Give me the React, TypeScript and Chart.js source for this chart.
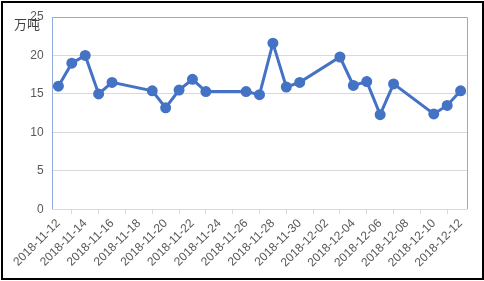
import React, { useEffect, useRef } from "react";
import { Chart, registerables } from "chart.js";

Chart.register(...registerables);

const dates: string[] = [
  "2018-11-12", "2018-11-13", "2018-11-14", "2018-11-15", "2018-11-16", "2018-11-17",
  "2018-11-18", "2018-11-19", "2018-11-20", "2018-11-21", "2018-11-22", "2018-11-23",
  "2018-11-24", "2018-11-25", "2018-11-26", "2018-11-27", "2018-11-28", "2018-11-29",
  "2018-11-30", "2018-12-01", "2018-12-02", "2018-12-03", "2018-12-04", "2018-12-05",
  "2018-12-06", "2018-12-07", "2018-12-08", "2018-12-09", "2018-12-10", "2018-12-11",
  "2018-12-12",
];

const values: (number | null)[] = [
  16.0, 19.0, 20.0, 15.0, 16.5, null,
  null, 15.4, 13.2, 15.5, 16.9, 15.3,
  null, null, 15.3, 14.9, 21.6, 15.9,
  16.5, null, null, 19.8, 16.1, 16.6,
  12.3, 16.3, null, null, 12.4, 13.5,
  15.4,
];

const unitLabel = "万吨";
const yMin = 0;
const yMax = 25;
const yStep = 5;

const framePlugin = {
  id: "frame",
  beforeDatasetsDraw(chart: any) {
    const { ctx, chartArea } = chart;
    const { left, right, top, bottom } = chartArea;
    ctx.save();
    ctx.lineWidth = 1;
    ctx.strokeStyle = "#8faadc";
    ctx.beginPath();
    ctx.moveTo(Math.round(left) + 0.5, Math.round(bottom));
    ctx.lineTo(Math.round(left) + 0.5, Math.round(top) + 0.5);
    ctx.lineTo(Math.round(right) + 0.5, Math.round(top) + 0.5);
    ctx.lineTo(Math.round(right) + 0.5, Math.round(bottom));
    ctx.stroke();
    ctx.strokeStyle = "#d9d9d9";
    ctx.beginPath();
    ctx.moveTo(Math.round(left) + 1, Math.round(bottom) + 0.5);
    ctx.lineTo(Math.round(right), Math.round(bottom) + 0.5);
    ctx.stroke();
    ctx.restore();
  },
  afterDraw(chart: any) {
    const { ctx } = chart;
    ctx.save();
    ctx.fillStyle = "#404040";
    ctx.font = '13px "Noto Sans CJK SC"';
    ctx.textBaseline = "middle";
    ctx.textAlign = "left";
    ctx.fillText(unitLabel, 14, 24);
    ctx.strokeStyle = "#000";
    ctx.lineWidth = 2;
    ctx.strokeRect(2, 2, 481, 277);
    ctx.restore();
  },
};

export default function App() {
  const ref = useRef<HTMLCanvasElement>(null);
  useEffect(() => {
    if (!ref.current) return;
    const chart = new Chart(ref.current, {
      type: "line",
      data: {
        labels: dates,
        datasets: [
          {
            data: values,
            borderColor: "#4472c4",
            backgroundColor: "#4472c4",
            borderWidth: 3,
            pointRadius: 4,
            pointHoverRadius: 4,
            pointBackgroundColor: "#4472c4",
            pointBorderColor: "#4472c4",
            spanGaps: true,
            tension: 0,
          },
        ],
      },
      options: {
        animation: false,
        responsive: false,
        maintainAspectRatio: false,
        layout: { padding: { top: 17, right: 16.7, left: 0, bottom: 0 } },
        plugins: { legend: { display: false }, tooltip: { enabled: false } },
        scales: {
          x: {
            type: "category",
            offset: true,
            afterFit: (s: any) => { s.height = 71.7; },
            grid: {
              offset: true,
              drawOnChartArea: false,
              drawTicks: true,
              tickLength: 5,
              color: "#d9d9d9",
            },
            border: { display: false },
            ticks: {
              autoSkip: false,
              minRotation: 45,
              maxRotation: 45,
              padding: 2,
              color: "#595959",
              font: { family: '"Liberation Sans", Arial, sans-serif', size: 12 },
              callback: (_v: any, i: number) => (i % 2 === 0 ? dates[i] : null),
            },
          },
          y: {
            min: yMin,
            max: yMax,
            afterFit: (s: any) => { s.width = 51.7; },
            grid: { color: "#d9d9d9", drawTicks: false },
            border: { display: false },
            ticks: {
              stepSize: yStep,
              padding: 8,
              color: "#595959",
              font: { family: '"Liberation Sans", Arial, sans-serif', size: 12 },
            },
          },
        },
      },
      plugins: [framePlugin],
    });
    return () => chart.destroy();
  }, []);
  return (
    <div style={{ position: "fixed", left: 0, top: 0, width: 484, height: 281, background: "#fff" }}>
      <canvas ref={ref} width={484} height={281} style={{ width: 484, height: 281, display: "block" }} />
    </div>
  );
}
